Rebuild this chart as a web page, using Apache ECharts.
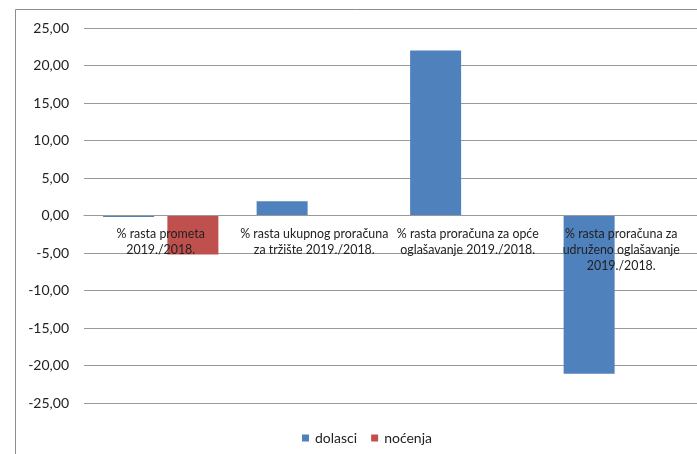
<!DOCTYPE html>
<html>
<head>
<meta charset="utf-8">
<script src="https://cdn.jsdelivr.net/npm/echarts@6/dist/echarts.min.js"></script>
<style>
  html, body { margin: 0; padding: 0; background: #fff; }
  #chart { width: 697px; height: 454px; }
</style>
</head>
<body>
<div id="chart"></div>
<script>
// Growth percentages, 2019 vs 2018
const categories = [
  '% rasta prometa\n2019./2018.',
  '% rasta ukupnog proračuna\nza tržište 2019./2018.',
  '% rasta proračuna za opće\noglašavanje 2019./2018.',
  '% rasta proračuna za\nudruženo oglašavanje\n2019./2018.'
];
const dolasci = [-0.2, 1.9, 22.0, -21.1];
const nocenja = [-5.2, 0, 0, 0];
const yMin = -25, yMax = 25, yStep = 5;

const FONT = 'Lato';
const GRID_TOP = 28, GRID_BOTTOM = 51, H = 454;
// distance from the bottom of the plot to the zero line
const plotH = H - GRID_TOP - GRID_BOTTOM;
const zeroOffset = plotH * (0 - yMin) / (yMax - yMin);

const chart = echarts.init(document.getElementById('chart'), null, { renderer: 'canvas' });

chart.setOption({
  animation: false,
  textStyle: { fontFamily: FONT },
  graphic: [{
    type: 'rect',
    shape: { x: 15.5, y: 9.5, width: 800, height: 600 },
    style: { fill: 'none', stroke: '#8c8c8c', lineWidth: 1 },
    silent: true
  }],
  grid: {
    left: 84, right: -1, top: GRID_TOP, bottom: GRID_BOTTOM,
    containLabel: false, outerBoundsMode: 'none'
  },
  legend: {
    left: 297, top: 426,
    itemWidth: 7, itemHeight: 7, itemGap: 14,
    icon: 'rect',
    textStyle: { fontFamily: FONT, fontSize: 14, color: '#222', padding: [0, 0, 0, 1] },
    data: ['dolasci', 'noćenja']
  },
  xAxis: {
    type: 'category',
    data: categories,
    z: 10,
    offset: -zeroOffset,
    axisLine: { onZero: false, lineStyle: { color: '#999', width: 1 } },
    axisTick: { show: false },
    axisLabel: {
      interval: 0, margin: 10, color: '#222',
      fontFamily: FONT, fontSize: 12.4, lineHeight: 16
    },
    splitLine: { show: false }
  },
  yAxis: {
    type: 'value',
    min: yMin, max: yMax, interval: yStep,
    axisLine: { show: false },
    axisTick: { show: false },
    axisLabel: {
      margin: 15, color: '#222', fontFamily: FONT, fontSize: 14,
      formatter: v => v.toFixed(2).replace('.', ',')
    },
    splitLine: { lineStyle: { color: '#999', width: 1 } }
  },
  series: [
    {
      name: 'dolasci', type: 'bar', data: dolasci,
      barWidth: 51, barGap: '26%',
      itemStyle: { color: '#4F81BD' }
    },
    {
      name: 'noćenja', type: 'bar', data: nocenja,
      barWidth: 51, barGap: '26%',
      itemStyle: { color: '#C0504D' }
    }
  ]
});
</script>
</body>
</html>
